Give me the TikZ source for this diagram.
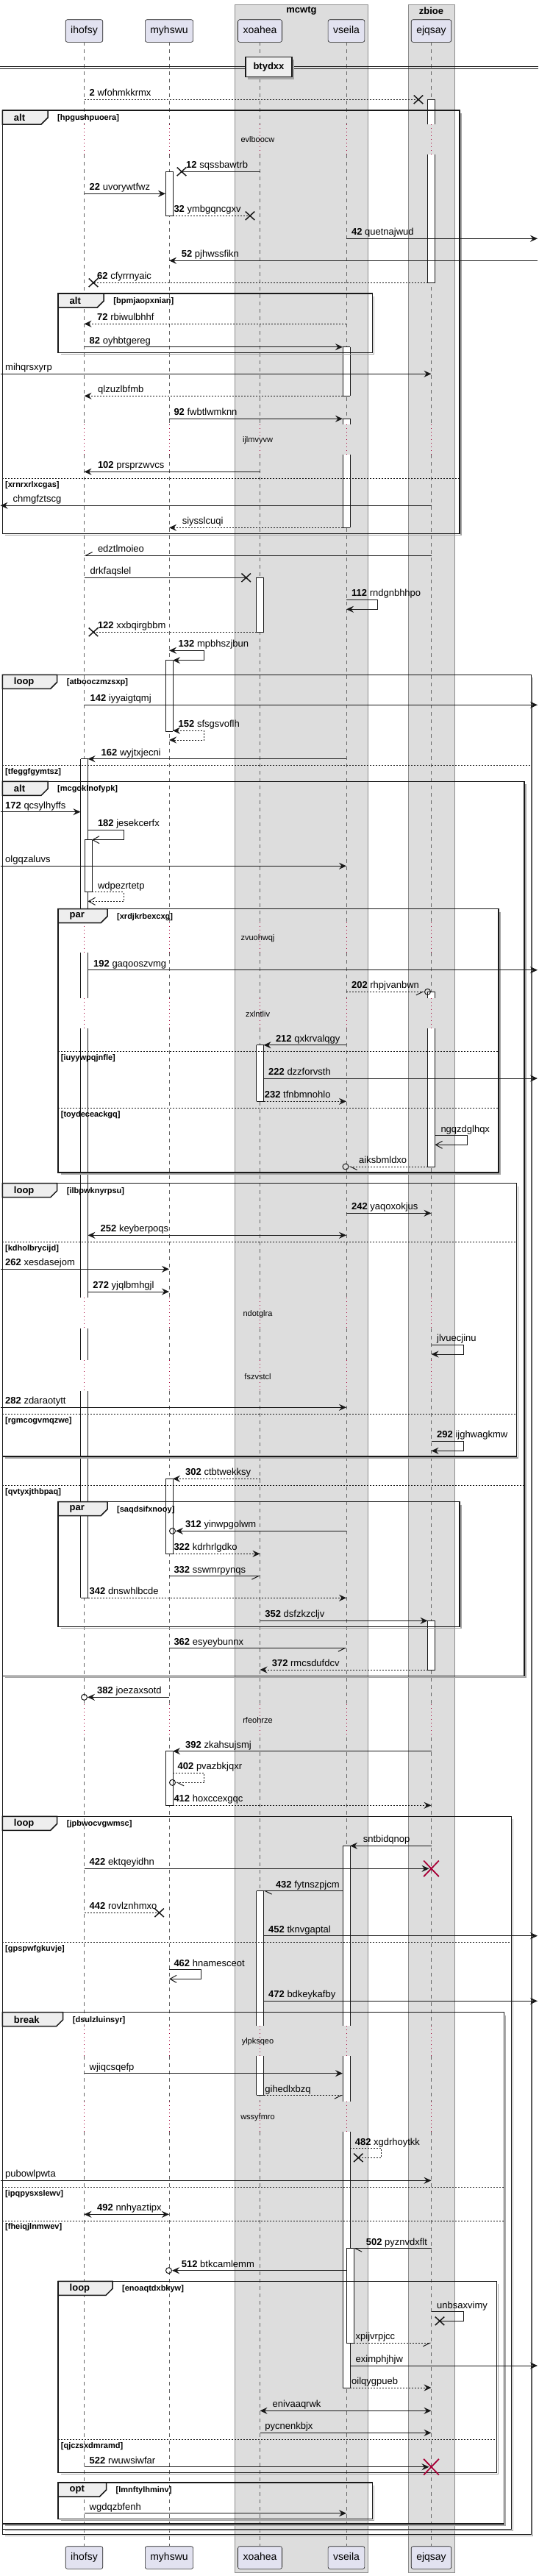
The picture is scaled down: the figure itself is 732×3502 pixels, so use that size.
\documentclass[tikz,border=0pt]{standalone}
\usepackage{fontspec}
\setmainfont{Liberation Sans}
\usetikzlibrary{arrows.meta,shapes.misc,positioning}
\definecolor{ink}{HTML}{181818}
\definecolor{partfill}{HTML}{E2E2F0}
\definecolor{boxfill}{HTML}{DDDDDD}
\definecolor{tabfill}{HTML}{EEEEEE}
\definecolor{delayred}{HTML}{A80036}
\tikzset{
  part/.style={draw=ink,fill=partfill,line width=0.6pt,rounded corners=2.5pt,
    minimum height=30.6pt,inner xsep=7pt,text height=10.5pt,text depth=3pt,
    font=\fontsize{14}{16}\selectfont},
  boxbg/.style={fill=boxfill,draw=black!45,line width=0.6pt},
  boxttl/.style={font=\fontsize{13}{15}\selectfont\bfseries,inner sep=0},
  life/.style={draw=black!60,line width=0.6pt,dash pattern=on 5pt off 5pt},
  delayline/.style={draw=delayred,line width=0.8pt,dash pattern=on 1pt off 4pt},
  delaytxt/.style={font=\fontsize{11}{13}\selectfont,inner sep=0},
  actline/.style={draw=ink,line width=0.8pt},
  seqframe/.style={draw=ink,line width=1.5pt},
  tabshape/.style={fill=tabfill,draw=ink,line width=1.5pt},
  tablbl/.style={font=\fontsize{13}{15}\selectfont\bfseries,inner sep=0,anchor=west},
  guard/.style={font=\fontsize{11}{13}\selectfont\bfseries,inner sep=0,anchor=west},
  sepline/.style={draw=ink,line width=0.8pt,dash pattern=on 2pt off 2pt},
  msg/.style={draw=ink,line width=1pt,-{Stealth[length=10pt,width=9pt,inset=3.5pt]}},
  bimsg/.style={draw=ink,line width=1pt,
    {Stealth[length=10pt,width=9pt,inset=3.5pt]}-{Stealth[length=10pt,width=9pt,inset=3.5pt]}},
  opnmsg/.style={draw=ink,line width=1pt,-{Straight Barb[length=9pt,width=10pt]}},
  halfmsg/.style={draw=ink,line width=1pt,-{Straight Barb[length=9pt,width=9pt,#1]}},
  nomsg/.style={draw=ink,line width=1pt},
  ret/.style={dash pattern=on 2pt off 2pt},
  lbl/.style={anchor=base west,inner sep=0,yshift=4.5pt,font=\fontsize{13}{15}\selectfont},
  lostx/.style={cross out,draw=ink,line width=1.5pt,minimum width=11pt,minimum height=10pt,inner sep=0},
  killx/.style={cross out,draw=delayred,line width=1.5pt,minimum width=19pt,minimum height=20pt,inner sep=0},
  endo/.style={circle,draw=ink,line width=1pt,minimum size=8pt,inner sep=0}
}
% activation bar: x, y1, y2, top edge, bottom edge
\newcommand{\actbox}[5]{%
  \fill[white] (#1-5,#2) rectangle (#1+5,#3);
  \draw[actline] (#1-5,#2) -- (#1-5,#3) (#1+5,#2) -- (#1+5,#3);
  \ifnum#4=1 \draw[actline] (#1-5,#2) -- (#1+5,#2);\fi
  \ifnum#5=1 \draw[actline] (#1-5,#3) -- (#1+5,#3);\fi}
% frame: x1, y1, x2, y2, tab width, kind, guard, name
\newcommand{\seqfrm}[8]{%
  \draw[black!35,line width=1.5pt] (#3+2,#2+4) -- (#3+2,#4+2) -- (#1+4,#4+2);
  \draw[seqframe] (#1,#2) rectangle (#3,#4);
  \filldraw[tabshape] (#1,#2) -- (#1+#5,#2) -- (#1+#5,#2+10) -- (#1+#5-9,#2+19)
    -- (#1,#2+19) -- cycle;
  \node[tablbl] (#8k) at (#1+15.5,#2+10) {#6};
  \node[guard] (#8g) at (#1+#5+13,#2+10.5) {#7};}
% else line: x1, x2, y, guard, name
\newcommand{\elsesep}[5]{%
  \draw[sepline] (#1,#3) -- (#2,#3);
  \node[guard] (#5) at (#1+3.7,#3+9) {#4};}

\begin{document}
\begin{tikzpicture}[x=1pt,y=-1pt]
\useasboundingbox (0,0) rectangle (732,3502);

% boxes
\draw[boxbg] (319,6) rectangle (500.5,3497);
\draw[boxbg] (555,6) rectangle (618,3497);
\node[boxttl] (mcwtg) at (410,15) {mcwtg};
\node[boxttl] (zbioe) at (586.5,15) {zbioe};

% participants
\node[part] (ihofsy) at (114.5,42) {ihofsy};
\node[part] (myhswu) at (230,42) {myhswu};
\node[part] (xoahea) at (353.5,42) {xoahea};
\node[part] (vseila) at (471,42) {vseila};
\node[part] (ejqsay) at (586.5,42) {ejqsay};
\node[part] (ihofsyB) at (114.5,3477) {ihofsy};
\node[part] (myhswuB) at (230,3477) {myhswu};
\node[part] (xoaheaB) at (353.5,3477) {xoahea};
\node[part] (vseilaB) at (471,3477) {vseila};
\node[part] (ejqsayB) at (586.5,3477) {ejqsay};

% activation edges and page edges
\coordinate (ihofsyL) at (109.5,0);
\coordinate (ihofsyR) at (119.5,0);
\coordinate (ihofsyRR) at (125,0);
\coordinate (myhswuL) at (225,0);
\coordinate (myhswuR) at (235,0);
\coordinate (xoaheaL) at (348.5,0);
\coordinate (xoaheaR) at (358.5,0);
\coordinate (vseilaL) at (466,0);
\coordinate (vseilaR) at (476,0);
\coordinate (vseilaRR) at (481,0);
\coordinate (ejqsayL) at (581.5,0);
\coordinate (ejqsayR) at (591.5,0);
\coordinate (lft) at (0.5,0);
\coordinate (rgt) at (731,0);

% lifelines
\foreach \p in {ihofsy,myhswu,xoahea,vseila,ejqsay}{
  \foreach \a/\b in {57.3/169.3,210/577.3,618.3/1253.7,1295/1356.7,1398.3/1764.3,
      1806/1849.3,1891/2317.3,2361.7/2754.3,2795.3/2856.7,2898.3/3461.7}
    \draw[life] (\p |- 0,\a) -- (\p |- 0,\b);
  \foreach \a/\b in {169.3/210,577.3/618.3,1253.7/1295,1356.7/1398.3,1764.3/1806,
      1849.3/1891,2317.3/2361.7,2754.3/2795.3,2856.7/2898.3}
    \draw[delayline] (\p |- 0,\a) -- (\p |- 0,\b);
}

% delays
\node[delaytxt] (d1) at (350.5,190) {evlboocw};
\node[delaytxt] (d2) at (350.5,598.3) {ijlmvyvw};
\node[delaytxt] (d3) at (350.5,1275.7) {zvuohwqj};
\node[delaytxt] (d4) at (350.5,1378.3) {zxlntliv};
\node[delaytxt] (d5) at (350.5,1786.7) {ndotglra};
\node[delaytxt] (d6) at (350.5,1871.7) {fszvstcl};
\node[delaytxt] (d7) at (350.5,2338.3) {rfeohrze};
\node[delaytxt] (d8) at (350.5,2776) {ylpksqeo};
\node[delaytxt] (d9) at (350.5,2878.3) {wssyfmro};

% divider
\draw[ink,line width=1pt] (0,90) -- (732,90) (0,93.3) -- (732,93.3);
\fill[black!35] (337,81) rectangle (400,107.5);
\node[draw=ink,fill=tabfill,line width=1.5pt,minimum width=63pt,minimum height=26.6pt,
  inner sep=0,font=\fontsize{13}{15}\selectfont\bfseries] (btydxx) at (365.5,91) {btydxx};

% activations
\actbox{586.5}{135.3}{169.3}{1}{0}
\actbox{586.5}{210}{384.3}{0}{1}
\actbox{230}{233.3}{293.3}{1}{1}
\actbox{471}{471.7}{538.3}{1}{1}
\actbox{471}{569.3}{577.3}{1}{0}
\actbox{471}{618.3}{717.3}{0}{1}
\actbox{353.5}{785.3}{859.3}{1}{1}
\actbox{230}{897.7}{994.3}{1}{1}
\actbox{114.5}{1031.7}{1253.7}{1}{0}
\actbox{114.5}{1295}{1356.7}{0}{0}
\actbox{114.5}{1398.3}{1764.3}{0}{0}
\actbox{114.5}{1806}{1849.3}{0}{0}
\actbox{114.5}{1891}{2172.3}{0}{1}
\actbox{120}{1141.7}{1212.7}{1}{1}
\actbox{586.5}{1348.3}{1356.7}{1}{0}
\actbox{586.5}{1398.3}{1586}{0}{1}
\actbox{353.5}{1420.7}{1497.3}{1}{1}
\actbox{230}{2010.3}{2112.3}{1}{1}
\actbox{586.5}{2203.3}{2270}{1}{1}
\actbox{230}{2380.7}{2454.3}{1}{1}
\actbox{471}{2509.3}{2754.3}{1}{0}
\actbox{471}{2795.3}{2856.7}{0}{0}
\actbox{471}{2898.3}{3246}{0}{1}
\actbox{353.5}{2570.7}{2754.3}{1}{0}
\actbox{353.5}{2795.3}{2848.3}{0}{1}
\actbox{476}{3056.7}{3185}{1}{1}

% frames
\seqfrm{3.3}{150}{624.8}{725.3}{61.7}{alt}{[hpgushpuoera]}{fa}
\elsesep{3.3}{624.8}{650.3}{[xrnrxrlxcgas]}{fa1}
\seqfrm{79}{399}{506.6}{479.3}{62.2}{alt}{[bpmjaopxnian]}{fb}
\seqfrm{3.3}{917.3}{722.7}{3445.7}{74.4}{loop}{[atbooczmzsxp]}{fc}
\elsesep{3.3}{722.7}{1040.3}{[tfeggfgymtsz]}{fc1}
\seqfrm{3.3}{1062.3}{712.8}{2278.3}{61.7}{alt}{[mcgoklnofypk]}{fd}
\elsesep{3.3}{712.8}{2019.3}{[qvtyxjthbpaq]}{fd1}
\seqfrm{79}{1235.7}{678}{1594}{67}{par}{[xrdjkrbexcxg]}{fe}
\elsesep{79}{678}{1429.3}{[iuyywpqjnfle]}{fe1}
\elsesep{79}{678}{1506.7}{[toydeceackgq]}{fe2}
\seqfrm{3.3}{1608.7}{702.4}{1980}{74.4}{loop}{[ilbpwknyrpsu]}{ff}
\elsesep{3.3}{702.4}{1688.3}{[kdholbrycijd]}{ff1}
\elsesep{3.3}{702.4}{1922.3}{[rgmcogvmqzwe]}{ff2}
\seqfrm{79}{2041.7}{624.8}{2211.7}{67}{par}{[saqdsifxnooy]}{fg}
\seqfrm{3.3}{2469.3}{695.4}{3438.3}{74.4}{loop}{[jpbwocvgwmsc]}{fh}
\elsesep{3.3}{695.4}{2640.7}{[gpspwfgkuvje]}{fh1}
\seqfrm{3.3}{2735.7}{685.5}{3431}{82.4}{break}{[dsulzluinsyr]}{fi}
\elsesep{3.3}{685.5}{2973.3}{[ipqpysxslewv]}{fi1}
\elsesep{3.3}{685.5}{3019}{[fheiqjlnmwev]}{fi2}
\seqfrm{79}{3101.3}{675.6}{3361.7}{74}{loop}{[enoaqtdxbkyw]}{fj}
\elsesep{79}{675.6}{3316.3}{[qjczsxdmramd]}{fj1}
\seqfrm{79}{3375}{506.6}{3424.3}{65.5}{opt}{[lmnftylhminv]}{fk}

% messages
\node[lostx] (x2) at (569,135.3) {};
\draw[nomsg,ret] (ihofsy |- x2) -- (x2.center);
\node[lbl] (l2) at (121.5,135.3) {\textbf{2} wfohmkkrmx};
\node[lostx] (x12) at (247,233.3) {};
\draw[nomsg] (xoahea |- x12) -- (x12.center);
\node[lbl] (l12) at (253,233.3) {\textbf{12} sqssbawtrb};
\draw[msg] (ihofsy |- 0,263.3) -- (myhswuL |- 0,263.3);
\node[lbl] (l22) at (121.5,263.3) {\textbf{22} uvorywtfwz};
\node[lostx] (x32) at (340,293.3) {};
\draw[nomsg,ret] (myhswuR |- x32) -- (x32.center);
\node[lbl] (l32) at (236.3,293.3) {\textbf{32} ymbgqncgxv};
\draw[msg] (vseila |- 0,324.3) -- (rgt |- 0,324.3);
\node[lbl] (l42) at (477.9,324.3) {\textbf{42} quetnajwud};
\draw[msg] (rgt |- 0,354.3) -- (myhswu |- 0,354.3);
\node[lbl] (l52) at (246.7,354.3) {\textbf{52} pjhwssfikn};
\node[lostx] (x62) at (127,384.3) {};
\draw[nomsg,ret] (ejqsayL |- x62) -- (x62.center);
\node[lbl] (l62) at (132,384.3) {\textbf{62} cfyrrnyaic};
\draw[msg,ret] (vseila |- 0,440.3) -- (ihofsy |- 0,440.3);
\node[lbl] (l72) at (132,440.3) {\textbf{72} rbiwulbhhf};
\draw[msg] (ihofsy |- 0,471.7) -- (vseilaL |- 0,471.7);
\node[lbl] (l82) at (121.5,471.7) {\textbf{82} oyhbtgereg};
\draw[msg] (lft |- 0,508.3) -- (ejqsay |- 0,508.3);
\node[lbl] (lmih) at (7,508.3) {mihqrsxyrp};
\draw[msg,ret] (vseilaL |- 0,538.3) -- (ihofsy |- 0,538.3);
\node[lbl] (lqlz) at (133,538.3) {qlzuzlbfmb};
\draw[msg] (myhswu |- 0,569.3) -- (vseilaL |- 0,569.3);
\node[lbl] (l92) at (236.3,569.3) {\textbf{92} fwbtlwmknn};
\draw[msg] (xoahea |- 0,641.3) -- (ihofsy |- 0,641.3);
\node[lbl] (l102) at (132.8,641.3) {\textbf{102} prsprzwvcs};
\draw[msg] (ejqsay |- 0,687.3) -- (lft |- 0,687.3);
\node[lbl] (lchm) at (17.4,687.3) {chmgfztscg};
\draw[msg,ret] (vseilaL |- 0,717.3) -- (myhswu |- 0,717.3);
\node[lbl] (lsiy) at (247.6,717.3) {siysslcuqi};
\draw[halfmsg=right] (ejqsay |- 0,755) -- (ihofsy |- 0,755);
\node[lbl] (ledz) at (132.8,755) {edztlmoieo};
\node[lostx] (xdrk) at (334.7,785.3) {};
\draw[nomsg] (ihofsy |- xdrk) -- (xdrk.center);
\node[lbl] (ldrk) at (122.4,785.3) {drkfaqslel};
\draw[msg] (vseila |- 0,815.3) -| (513,828.3) -- (vseila |- 0,828.3);
\node[lbl] (l112) at (478,815.3) {\textbf{112} rndgnbhhpo};
\node[lostx] (x122) at (127,859.3) {};
\draw[nomsg,ret] (xoaheaL |- x122) -- (x122.center);
\node[lbl] (l122) at (132.8,859.3) {\textbf{122} xxbqirgbbm};
\draw[bimsg] (myhswu |- 0,884.3) -| (277.8,897.7) -- (myhswuR |- 0,897.7);
\node[lbl] (l132) at (242.5,884.3) {\textbf{132} mpbhszjbun};
\draw[msg] (ihofsy |- 0,958.3) -- (rgt |- 0,958.3);
\node[lbl] (l142) at (122.4,958.3) {\textbf{142} iyyaigtqmj};
\draw[bimsg,ret] (myhswuR |- 0,993.3) -| (277.8,1006) -- (myhswu |- 0,1006);
\node[lbl] (l152) at (242.5,993.3) {\textbf{152} sfsgsvoflh};
\draw[msg] (vseila |- 0,1031.7) -- (ihofsyR |- 0,1031.7);
\node[lbl] (l162) at (137.5,1031.7) {\textbf{162} wyjtxjecni};
\draw[msg] (lft |- 0,1103.7) -- (ihofsyL |- 0,1103.7);
\node[lbl] (l172) at (7,1103.7) {\textbf{172} qcsylhyffs};
\draw[opnmsg] (ihofsyR |- 0,1128.3) -| (168,1141.7) -- (ihofsyRR |- 0,1141.7);
\node[lbl] (l182) at (132.8,1128.3) {\textbf{182} jesekcerfx};
\draw[msg] (lft |- 0,1177.3) -- (vseila |- 0,1177.3);
\node[lbl] (lolg) at (7,1177.3) {olgqzaluvs};
\draw[opnmsg,ret] (ihofsyRR |- 0,1212.7) -| (168,1225.3) -- (ihofsyR |- 0,1225.3);
\node[lbl] (lwdp) at (132.8,1212.7) {wdpezrtetp};
\draw[msg] (ihofsyR |- 0,1318.7) -- (rgt |- 0,1318.7);
\node[lbl] (l192) at (127,1318.7) {\textbf{192} gaqooszvmg};
\node[endo] (o202) at (581.5,1348.3) {};
\draw[halfmsg=right,ret] (vseila |- o202) -- (o202.west);
\node[lbl] (l202) at (477.9,1348.3) {\textbf{202} rhpjvanbwn};
\draw[msg] (vseila |- 0,1420.7) -- (xoaheaR |- 0,1420.7);
\node[lbl] (l212) at (374.8,1420.7) {\textbf{212} qxkrvalqgy};
\draw[msg] (xoaheaR |- 0,1466) -- (rgt |- 0,1466);
\node[lbl] (l222) at (365,1466) {\textbf{222} dzzforvsth};
\draw[msg,ret] (xoaheaR |- 0,1497.3) -- (vseila |- 0,1497.3);
\node[lbl] (l232) at (359.7,1497.3) {\textbf{232} tfnbmnohlo};
\draw[opnmsg] (ejqsayR |- 0,1543.7) -| (635,1556.3) -- (ejqsayR |- 0,1556.3);
\node[lbl] (lngq) at (599.3,1543.7) {ngqzdglhqx};
\node[endo] (oaik) at (470,1586) {};
\draw[halfmsg=left,ret] (ejqsayL |- oaik) -- (oaik.east);
\node[lbl] (laik) at (488,1586) {aiksbmldxo};
\draw[msg] (vseila |- 0,1649.3) -- (ejqsay |- 0,1649.3);
\node[lbl] (l242) at (477.9,1649.3) {\textbf{242} yaqoxokjus};
\draw[bimsg] (ihofsyR |- 0,1679.3) -- (vseila |- 0,1679.3);
\node[lbl] (l252) at (136.5,1679.3) {\textbf{252} keyberpoqs};
\draw[msg] (lft |- 0,1725.3) -- (myhswu |- 0,1725.3);
\node[lbl] (l262) at (7,1725.3) {\textbf{262} xesdasejom};
\draw[msg] (ihofsyR |- 0,1756) -- (myhswu |- 0,1756);
\node[lbl] (l272) at (126.2,1756) {\textbf{272} yjqlbmhgjl};
\draw[msg] (ejqsay |- 0,1828.3) -| (630,1841) -- (ejqsay |- 0,1841);
\node[lbl] (ljlv) at (594,1828.3) {jlvuecjinu};
\draw[msg] (lft |- 0,1913.3) -- (vseila |- 0,1913.3);
\node[lbl] (l282) at (7,1913.3) {\textbf{282} zdaraotytt};
\draw[msg] (ejqsay |- 0,1959.3) -| (630,1972.3) -- (ejqsay |- 0,1972.3);
\node[lbl] (l292) at (594,1959.3) {\textbf{292} ijghwagkmw};
\draw[msg,ret] (xoahea |- 0,2010.3) -- (myhswuR |- 0,2010.3);
\node[lbl] (l302) at (252,2010.3) {\textbf{302} ctbtwekksy};
\node[endo] (o312) at (234.5,2081.3) {};
\draw[msg] (vseila |- o312) -- (o312.east);
\node[lbl] (l312) at (252,2081.3) {\textbf{312} yinwpgolwm};
\draw[msg,ret] (myhswuR |- 0,2112.3) -- (xoahea |- 0,2112.3);
\node[lbl] (l322) at (236.3,2112.3) {\textbf{322} kdrhrlgdko};
\draw[halfmsg=right] (myhswu |- 0,2142.7) -- (xoahea |- 0,2142.7);
\node[lbl] (l332) at (236.3,2142.7) {\textbf{332} sswmrpynqs};
\draw[msg,ret] (ihofsyR |- 0,2172.3) -- (vseila |- 0,2172.3);
\node[lbl] (l342) at (121.5,2172.3) {\textbf{342} dnswhlbcde};
\draw[msg] (xoahea |- 0,2203.3) -- (ejqsayL |- 0,2203.3);
\node[lbl] (l352) at (360.2,2203.3) {\textbf{352} dsfzkzcljv};
\draw[halfmsg=right] (myhswu |- 0,2240.7) -- (vseila |- 0,2240.7);
\node[lbl] (l362) at (236.3,2240.7) {\textbf{362} esyeybunnx};
\draw[msg,ret] (ejqsayL |- 0,2270) -- (xoahea |- 0,2270);
\node[lbl] (l372) at (369.6,2270) {\textbf{372} rmcsdufdcv};
\node[endo] (o382) at (114.5,2307.3) {};
\draw[msg] (myhswu |- o382) -- (o382.east);
\node[lbl] (l382) at (132,2307.3) {\textbf{382} joezaxsotd};
\draw[msg] (ejqsay |- 0,2380.7) -- (myhswuR |- 0,2380.7);
\node[lbl] (l392) at (252,2380.7) {\textbf{392} zkahsujsmj};
\node[endo] (o402) at (234.5,2423.3) {};
\draw[halfmsg=left,ret] (myhswuR |- 0,2410.3) -| (277.8,2423.3) -- (o402.east);
\node[lbl] (l402) at (241.5,2410.3) {\textbf{402} pvazbkjqxr};
\draw[msg,ret] (myhswuR |- 0,2454.3) -- (ejqsay |- 0,2454.3);
\node[lbl] (l412) at (236.3,2454.3) {\textbf{412} hoxccexgqc};
\draw[msg] (ejqsay |- 0,2509.3) -- (vseilaR |- 0,2509.3);
\node[lbl] (lsnt) at (493.6,2509.3) {sntbidqnop};
\node[killx] (k422) at (ejqsay |- 0,2540.3) {};
\draw[msg] (ihofsy |- k422) -- ([xshift=-3pt]k422.center);
\node[killx] at (k422) {};
\node[lbl] (l422) at (121.5,2540.3) {\textbf{422} ektqeyidhn};
\draw[halfmsg=left] (vseilaL |- 0,2570.7) -- (xoaheaR |- 0,2570.7);
\node[lbl] (l432) at (374.8,2570.7) {\textbf{432} fytnszpjcm};
\node[lostx] (x442) at (216.6,2600.3) {};
\draw[nomsg,ret] (ihofsy |- x442) -- (x442.center);
\node[lbl] (l442) at (121.5,2600.3) {\textbf{442} rovlznhmxo};
\draw[msg] (xoaheaR |- 0,2631.7) -- (rgt |- 0,2631.7);
\node[lbl] (l452) at (365,2631.7) {\textbf{452} tknvgaptal};
\draw[opnmsg] (myhswu |- 0,2677.7) -| (273,2690.3) -- (myhswu |- 0,2690.3);
\node[lbl] (l462) at (236.3,2677.7) {\textbf{462} hnamesceot};
\draw[msg] (xoaheaR |- 0,2720.3) -- (rgt |- 0,2720.3);
\node[lbl] (l472) at (365,2720.3) {\textbf{472} bdkeykafby};
\draw[msg] (ihofsy |- 0,2818.7) -- (vseilaL |- 0,2818.7);
\node[lbl] (lwji) at (121.5,2818.7) {wjiqcsqefp};
\draw[halfmsg=right,ret] (xoaheaR |- 0,2848.7) -- (vseilaL |- 0,2848.7);
\node[lbl] (lgih) at (360.2,2848.7) {gihedlxbzq};
\node[lostx] (x482) at (487.3,2933.3) {};
\draw[nomsg,ret] (vseilaR |- 0,2920.7) -| (518.8,2933.3) -- (x482.center);
\node[lbl] (l482) at (482.6,2920.7) {\textbf{482} xgdrhoytkk};
\draw[msg] (lft |- 0,2964.3) -- (ejqsay |- 0,2964.3);
\node[lbl] (lpub) at (7,2964.3) {pubowlpwta};
\draw[bimsg] (ihofsy |- 0,3010.3) -- (myhswu |- 0,3010.3);
\node[lbl] (l492) at (132,3010.3) {\textbf{492} nnhyaztipx};
\draw[halfmsg=left] (ejqsay |- 0,3056.7) -- (vseilaRR |- 0,3056.7);
\node[lbl] (l502) at (497.6,3056.7) {\textbf{502} pyznvdxflt};
\node[endo] (o512) at (229.5,3086.7) {};
\draw[msg] (vseila |- o512) -- (o512.east);
\node[lbl] (l512) at (246.7,3086.7) {\textbf{512} btkcamlemm};
\node[lostx] (xunb) at (598,3155.3) {};
\draw[nomsg] (ejqsay |- 0,3142.7) -| (630,3155.3) -- (xunb.center);
\node[lbl] (lunb) at (594,3142.7) {unbsaxvimy};
\draw[halfmsg=right,ret] (vseilaRR |- 0,3185.3) -- (ejqsay |- 0,3185.3);
\node[lbl] (lxpi) at (483.5,3185.3) {xpijvrpjcc};
\draw[msg] (vseilaR |- 0,3216) -- (rgt |- 0,3216);
\node[lbl] (lexi) at (483.5,3216) {eximphjhjw};
\draw[msg,ret] (vseilaR |- 0,3246) -- (ejqsay |- 0,3246);
\node[lbl] (loil) at (478,3246) {oilqygpueb};
\draw[bimsg] (xoahea |- 0,3277.3) -- (ejqsay |- 0,3277.3);
\node[lbl] (leni) at (370.5,3277.3) {enivaaqrwk};
\draw[msg] (xoahea |- 0,3307.3) -- (ejqsay |- 0,3307.3);
\node[lbl] (lpyc) at (360.2,3307.3) {pycnenkbjx};
\node[killx] (k522) at (ejqsay |- 0,3353.7) {};
\draw[msg] (ihofsy |- k522) -- ([xshift=-3pt]k522.center);
\node[killx] at (k522) {};
\node[lbl] (l522) at (121.5,3353.7) {\textbf{522} rwuwsiwfar};
\draw[msg] (ihofsy |- 0,3416.7) -- (vseila |- 0,3416.7);
\node[lbl] (lwgd) at (121.5,3416.7) {wgdqzbfenh};
\end{tikzpicture}
\end{document}
